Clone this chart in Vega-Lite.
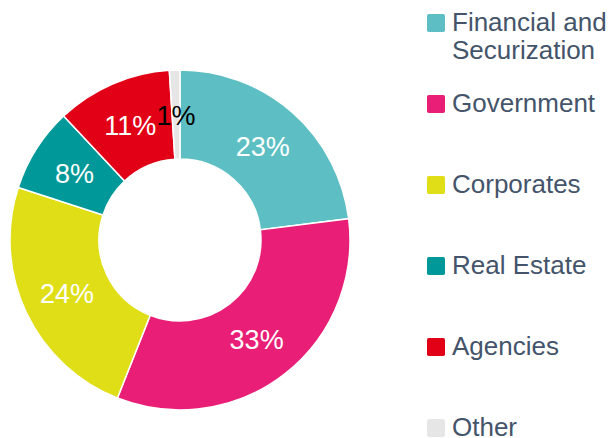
{
  "$schema": "https://vega.github.io/schema/vega-lite/v6.json",
  "width": 360,
  "height": 396,
  "autosize": {"type": "none"},
  "padding": {"left": 0, "top": 42, "right": 256, "bottom": 0},
  "background": "white",
  "config": {"view": {"stroke": null}},
  "data": {
    "values": [
      {"sector": "Financial and Securization", "share": 0.23, "rank": 1},
      {"sector": "Government", "share": 0.33, "rank": 2},
      {"sector": "Corporates", "share": 0.24, "rank": 3},
      {"sector": "Real Estate", "share": 0.08, "rank": 4},
      {"sector": "Agencies", "share": 0.11, "rank": 5},
      {"sector": "Other", "share": 0.01, "rank": 6}
    ]
  },
  "encoding": {
    "theta": {"field": "share", "type": "quantitative", "stack": true},
    "order": {"field": "rank", "type": "quantitative"}
  },
  "layer": [
    {
      "mark": {"type": "arc", "innerRadius": 81, "outerRadius": 170, "stroke": "white", "strokeWidth": 1.5},
      "encoding": {
        "color": {
          "field": "sector",
          "type": "nominal",
          "scale": {
            "domain": ["Financial and Securization", "Government", "Corporates", "Real Estate", "Agencies", "Other"],
            "range": ["#5DBFC3", "#E91E76", "#E0DE17", "#009898", "#E20016", "#E6E6E6"]
          },
          "legend": {
            "title": null,
            "orient": "none",
            "legendX": 423,
            "legendY": -32,
            "direction": "vertical",
            "padding": 0,
            "symbolType": "M -0.8,-1 L 0.8,-1 Q 1,-1 1,-0.8 L 1,0.8 Q 1,1 0.8,1 L -0.8,1 Q -1,1 -1,0.8 L -1,-0.8 Q -1,-1 -0.8,-1 Z",
            "symbolSize": 324,
            "symbolStrokeWidth": 0,
            "labelFont": "Liberation Sans",
            "labelFontSize": 26,
            "labelColor": "#44546A",
            "labelOffset": 3,
            "labelLimit": 0,
            "rowPadding": 27,
            "labelExpr": "datum.label === 'Financial and Securization' ? ['Financial and', 'Securization'] : [datum.label, '']",
            "encode": {"labels": {"update": {"lineHeight": {"value": 31}}}}
          }
        }
      }
    },
    {
      "mark": {"type": "text", "radius": 125, "dy": 2, "fontSize": 27, "font": "Liberation Sans", "align": "center", "baseline": "middle"},
      "encoding": {
        "text": {"field": "share", "type": "quantitative", "format": ".0%"},
        "color": {
          "condition": {"test": "datum.sector === 'Other'", "value": "black"},
          "value": "white"
        }
      }
    }
  ]
}
